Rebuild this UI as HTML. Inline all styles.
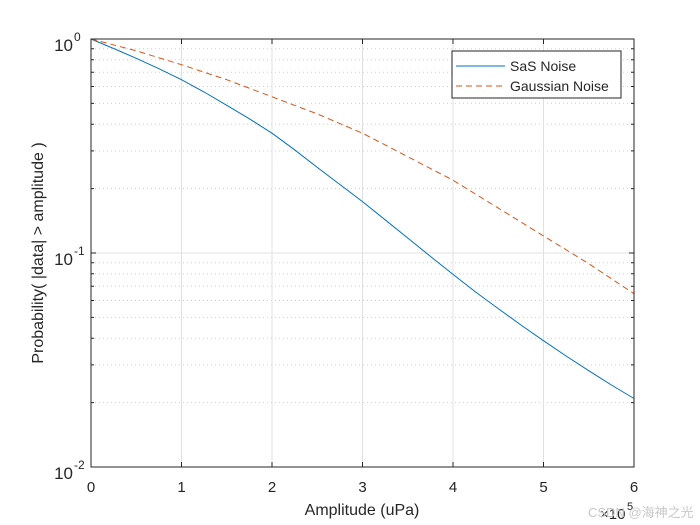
<!DOCTYPE html>
<html><head><style>body{margin:0;background:#fff}svg{display:block}text{font-family:"Liberation Sans",sans-serif;fill:#262626}</style></head><body>
<svg width="700" height="525" viewBox="0 0 700 525" xmlns="http://www.w3.org/2000/svg">
<rect x="0" y="0" width="700" height="525" fill="#fff"/>
<g stroke="#d0d0d0" stroke-width="1" stroke-dasharray="1,3">
<path d="M91 48.8H634M91 59.8H634M91 72.2H634M91 86.5H634M91 103.4H634M91 124.2H634M91 150.9H634M91 188.6H634M91 262.8H634M91 273.8H634M91 286.2H634M91 300.5H634M91 317.4H634M91 338.2H634M91 364.9H634M91 402.6H634"/>
</g>
<g stroke="#e0e0e0" stroke-width="1">
<path d="M181.5 39V467M272 39V467M362.5 39V467M453 39V467M543.5 39V467M91 253H634"/>
</g>
<polyline fill="none" stroke="#0072BD" stroke-width="1" points="91,39 113.6,48.5 136.25,58.3 158.9,68.7 181.5,79.7 204.1,92 226.75,105.3 249.4,118.8 272,133.2 294.6,149.8 317.25,167.4 339.9,184.5 362.5,201.6 385.1,219.8 407.75,238 430.4,256.4 453,274.4 475.6,292 498.25,308.6 520.9,325 543.5,340.7 566.1,356 588.75,370.7 611.4,385 634,398.5"/>
<polyline fill="none" stroke="#D95319" stroke-width="1" stroke-dasharray="6,4" points="91,39 136.25,50.8 181.5,64.7 226.75,79.7 272,96.8 317.25,113.9 362.5,133.2 407.75,156.7 453,180.2 498.25,208.1 543.5,235.9 588.75,263.7 634,293.7"/>
<rect x="91" y="39" width="543" height="428" fill="none" stroke="#262626" stroke-width="1"/>
<g stroke="#262626" stroke-width="1">
<path d="M181.5 467v-5M272 467v-5M362.5 467v-5M453 467v-5M543.5 467v-5M181.5 39v5M272 39v5M362.5 39v5M453 39v5M543.5 39v5M91 253h5M634 253h-5"/>
<path d="M91 48.8h3M91 59.8h3M91 72.2h3M91 86.5h3M91 103.4h3M91 124.2h3M91 150.9h3M91 188.6h3M91 262.8h3M91 273.8h3M91 286.2h3M91 300.5h3M91 317.4h3M91 338.2h3M91 364.9h3M91 402.6h3M634 48.8h-3M634 59.8h-3M634 72.2h-3M634 86.5h-3M634 103.4h-3M634 124.2h-3M634 150.9h-3M634 188.6h-3M634 262.8h-3M634 273.8h-3M634 286.2h-3M634 300.5h-3M634 317.4h-3M634 338.2h-3M634 364.9h-3M634 402.6h-3"/>
</g>
<g font-size="15" text-anchor="middle">
<text x="91" y="492">0</text><text x="181.5" y="492">1</text><text x="272" y="492">2</text><text x="362.5" y="492">3</text><text x="453" y="492">4</text><text x="543.5" y="492">5</text><text x="634" y="492">6</text>
</g>
<g font-size="17" text-anchor="end">
<text x="73" y="51">10</text><text x="73" y="265">10</text><text x="73" y="479">10</text>
</g>
<g font-size="12">
<text x="74" y="41">0</text><text x="74" y="255">-1</text><text x="74" y="469">-2</text>
</g>
<text x="600" y="519" font-size="15">×10</text><text x="627" y="510" font-size="11">5</text>
<text x="362" y="515" font-size="16" text-anchor="middle">Amplitude (uPa)</text>
<text transform="translate(43,253) rotate(-90)" font-size="16" text-anchor="middle">Probability( |data| &gt; amplitude )</text>
<rect x="452" y="51" width="169" height="47" fill="#fff" stroke="#262626" stroke-width="1"/>
<line x1="456" y1="66" x2="505" y2="66" stroke="#0072BD"/>
<line x1="456" y1="86" x2="505" y2="86" stroke="#D95319" stroke-dasharray="6,4"/>
<text x="510" y="71" font-size="14">SaS Noise</text>
<text x="510" y="91" font-size="14">Gaussian Noise</text>
<text x="588" y="517" font-size="13" fill="#c8c8c8" style="fill:#c8c8c8;font-family:'Liberation Sans','Noto Sans CJK SC',sans-serif">CSDN @海神之光</text>
</svg>
</body></html>
